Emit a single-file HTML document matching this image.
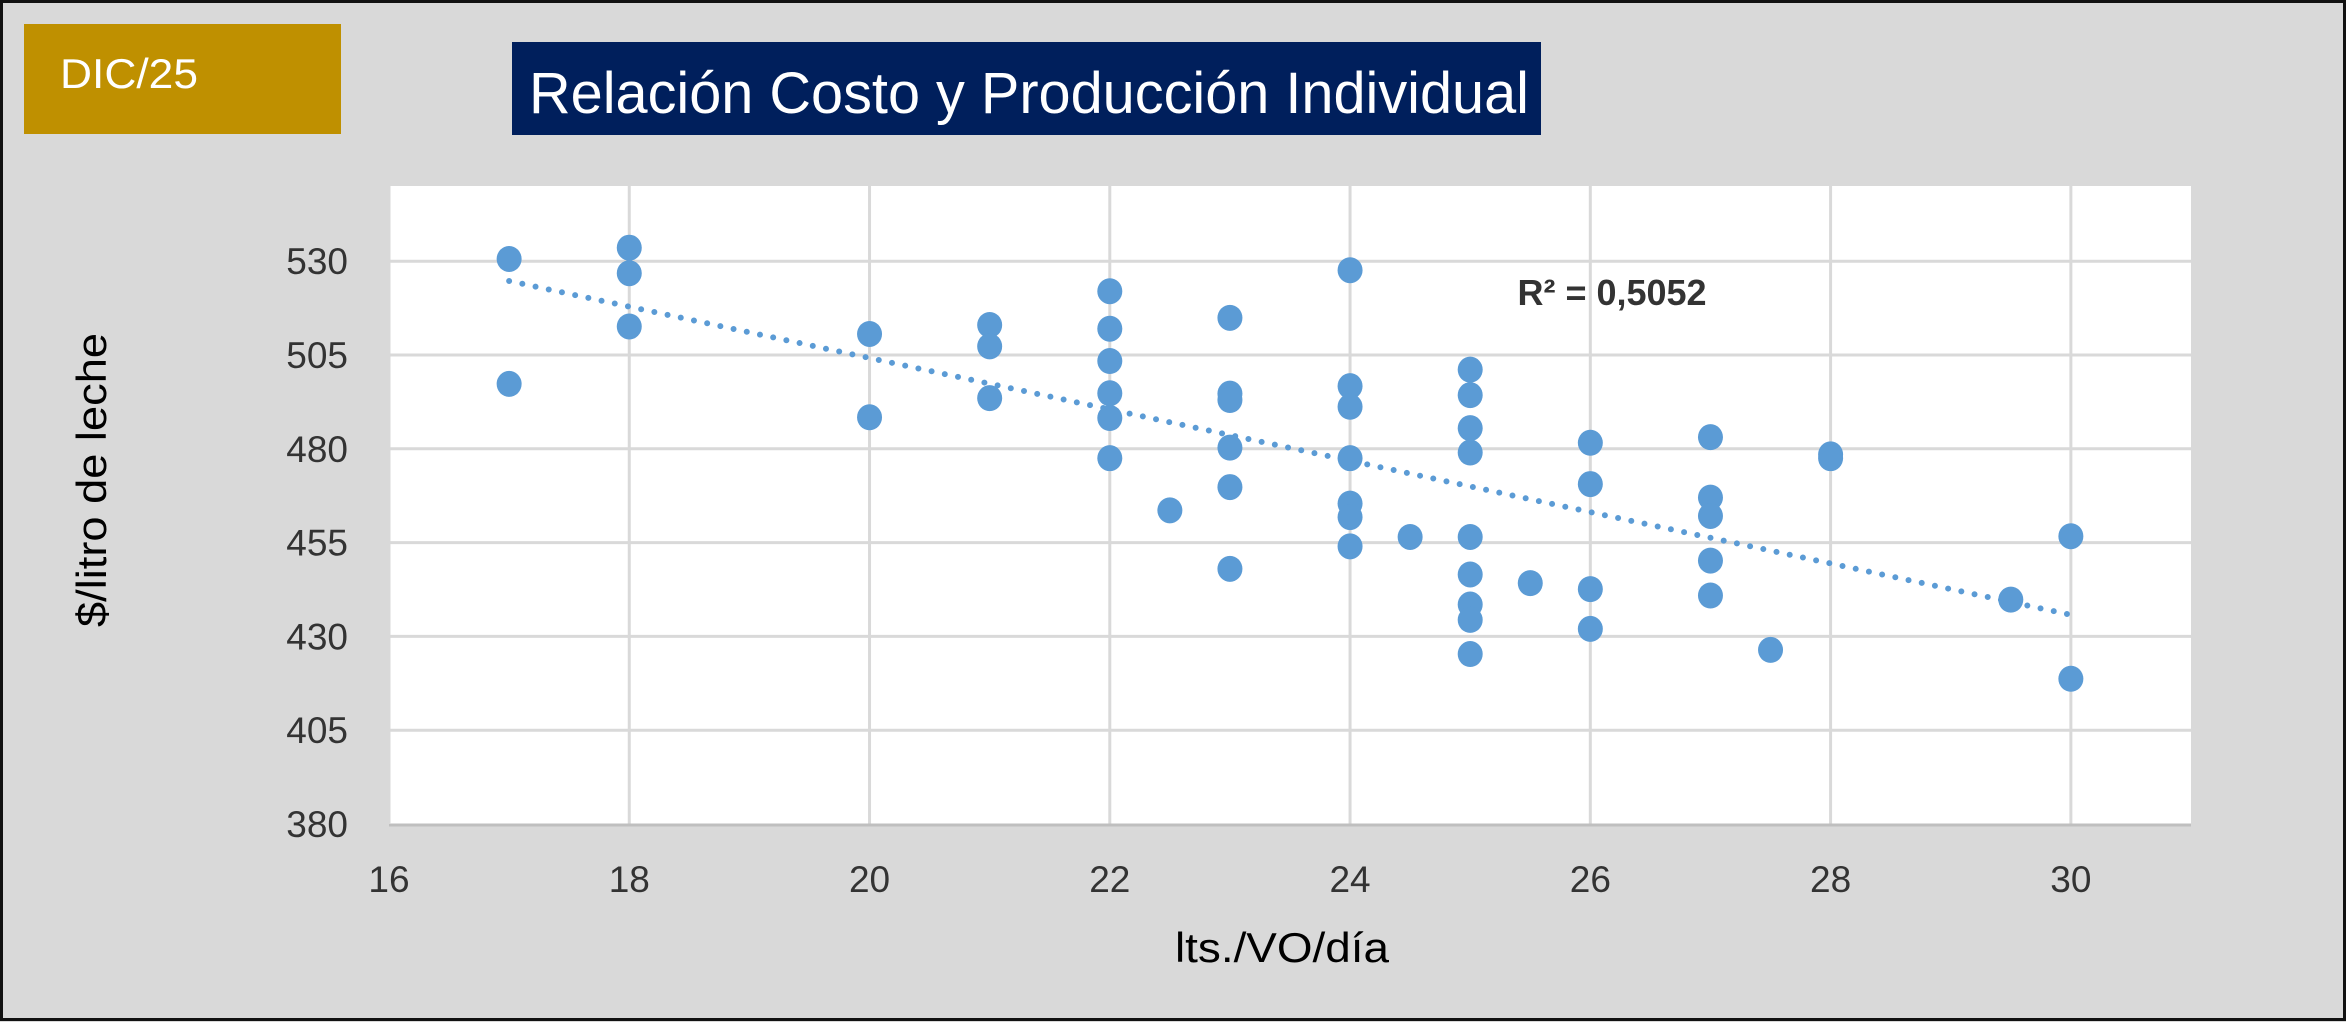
<!DOCTYPE html>
<html><head><meta charset="utf-8"><style>
html,body{margin:0;padding:0;background:#d9d9d9;}
svg{display:block;font-family:"Liberation Sans",sans-serif;}
</style></head><body>
<svg id="chart" width="2346" height="1022" viewBox="0 0 2346 1022" xmlns="http://www.w3.org/2000/svg">
<rect x="1.5" y="1.5" width="2343" height="1018" fill="#d9d9d9" stroke="#111" stroke-width="3"/>
<rect x="24" y="24" width="317" height="110" fill="#bf9000"/>
<text x="60" y="88" font-size="42" fill="#fff" textLength="138" lengthAdjust="spacingAndGlyphs">DIC/25</text>
<rect x="512" y="42" width="1029" height="93" fill="#001f5c"/>
<text x="529" y="113" font-size="58" fill="#fff" textLength="1000" lengthAdjust="spacingAndGlyphs">Relación Costo y Producción Individual</text>
<rect x="389" y="186" width="1802" height="638" fill="#fff"/>
<g id="grid"></g>
<g id="trend"></g>
<g id="points"></g>
<g id="labels"></g>
<text x="1612" y="305" font-size="36" font-weight="bold" fill="#333" text-anchor="middle" textLength="189" lengthAdjust="spacingAndGlyphs">R² = 0,5052</text>
<text x="1282" y="962" font-size="42" fill="#000" text-anchor="middle" textLength="214" lengthAdjust="spacingAndGlyphs">lts./VO/día</text>
<text transform="translate(106,480) rotate(-90)" font-size="42" fill="#000" text-anchor="middle" textLength="294" lengthAdjust="spacingAndGlyphs">$/litro de leche</text>
</svg>
<script>
const xTicks = [16,18,20,22,24,26,28,30];
const yTicks = [380,405,430,455,480,505,530];
const xVals = [17,17,18,18,18,20,20,21,21,21,22,22,22,22,22,22,22.5,23,23,23,23,23,23,24,24,24,24,24,24,24,24.5,25,25,25,25,25,25,25,25,25,25.5,26,26,26,26,27,27,27,27,27,27.5,28,28,29.5,30,30];
const yVals = [530.6,497.3,533.6,526.8,512.6,510.6,488.4,513,507.3,493.5,522,512,503.4,494.8,488.2,477.5,463.6,514.9,494.7,493,480.3,469.8,448,527.6,496.7,491.2,477.5,465.4,461.8,454,456.5,501.1,494.3,485.5,479,456.5,446.5,438.5,434.4,425.3,444.2,481.6,470.6,442.6,432,483.1,467,462.1,450.2,440.9,426.4,478.5,477.5,439.8,456.7,418.7];
const NS='http://www.w3.org/2000/svg';
const X0=389,X1=2191,XMIN=16,XMAX=31,Y0=824,YMIN=380,YPX=3.752;
function sx(v){return X0+(v-XMIN)*(X1-X0)/(XMAX-XMIN);}
function sy(v){return Y0-(v-YMIN)*YPX;}
function mk(tag,attrs,parent){const e=document.createElementNS(NS,tag);for(const k in attrs)e.setAttribute(k,attrs[k]);parent.appendChild(e);return e;}
const grid=document.getElementById('grid'),lab=document.getElementById('labels');
yTicks.forEach(t=>{
  if(t>YMIN){const l=mk('line',{x1:X0,x2:X1,y1:sy(t),y2:sy(t),stroke:'#d9d9d9','stroke-width':3},grid);
  
  }
  const tx=mk('text',{x:348,y:sy(t)+13,'font-size':37,fill:'#333','text-anchor':'end'},lab);
  tx.textContent=t;
  
  
});
xTicks.forEach(t=>{
  if(t>XMIN){const l=mk('line',{x1:sx(t),x2:sx(t),y1:186,y2:Y0,stroke:'#d9d9d9','stroke-width':3},grid);
  
  }
  const tx=mk('text',{x:sx(t),y:892,'font-size':37,fill:'#333','text-anchor':'middle'},lab);
  tx.textContent=t;
  
  
});
const ax=mk('line',{x1:X0,x2:X1,y1:Y0+1,y2:Y0+1,stroke:'#bfbfbf','stroke-width':3},grid);


const ay=mk('line',{x1:X0,x2:X0,y1:186,y2:Y0,stroke:'#d9d9d9','stroke-width':3},grid);


const n=xVals.length;let mx=0,my=0;for(let i=0;i<n;i++){mx+=xVals[i];my+=yVals[i];}mx/=n;my/=n;
let sxy=0,sxx=0;for(let i=0;i<n;i++){sxy+=(xVals[i]-mx)*(yVals[i]-my);sxx+=(xVals[i]-mx)**2;}
const b=sxy/sxx,a=my-b*mx;const xa=Math.min(...xVals),xb=Math.max(...xVals);
const tl=mk('line',{x1:sx(xa),y1:sy(a+b*xa),x2:sx(xb),y2:sy(a+b*xb),stroke:'#5b9bd5','stroke-width':6,'stroke-linecap':'round','stroke-dasharray':'0 13.5'},document.getElementById('trend'));


const pg=document.getElementById('points');
for(let i=0;i<n;i++){
  const c=mk('ellipse',{cx:sx(xVals[i]),cy:sy(yVals[i]),rx:12.5,ry:13,fill:'#5b9bd5'},pg);
  
  
}
</script>
</body></html>
